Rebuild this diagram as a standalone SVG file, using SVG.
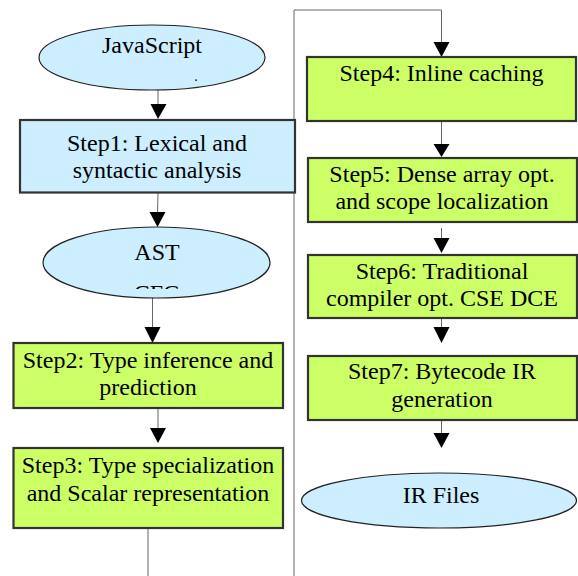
<svg xmlns="http://www.w3.org/2000/svg" width="578" height="576" viewBox="0 0 578 576">
  <style>
    .term { fill: #cceeff; stroke: #222; stroke-width: 1.2; }
    .blue { fill: #cceeff; stroke: #333; stroke-width: 2.2; }
    .green { fill: #ccff66; stroke: #333; stroke-width: 2.2; }
    .lbl { font-family: 'Liberation Serif', 'Times New Roman', serif; font-size: 24px; fill: #000; text-anchor: middle; }
    .wire { fill: none; stroke: #666; stroke-width: 1; }
    .head { fill: #000; stroke: none; }
  </style>
  <defs>
    <clipPath id="astClip">
      <rect x="40" y="220" width="240" height="69"/>
    </clipPath>
  </defs>
  <rect width="578" height="576" fill="#fff"/>

  <!-- connectors -->
  <g id="connectors">
    <line class="wire" x1="158" y1="90" x2="158" y2="106"/>
    <polygon class="head" points="150.5,104 166.5,104 158,119"/>
    <line class="wire" x1="158" y1="193" x2="157.5" y2="214"/>
    <polygon class="head" points="149.5,212 165.5,212 157.5,227"/>
    <line class="wire" x1="152.5" y1="287" x2="152.5" y2="329"/>
    <polygon class="head" points="144.5,327 160.5,327 152.5,343"/>
    <line class="wire" x1="158" y1="408" x2="158" y2="430"/>
    <polygon class="head" points="150,428 166,428 158,443"/>
    <line class="wire" x1="148" y1="528" x2="148" y2="576"/>
    <polyline class="wire" points="294,576 294,10 441.5,10 441.5,44"/>
    <polygon class="head" points="433.5,42 449.5,42 441.5,57"/>
    <line class="wire" x1="441.5" y1="121" x2="441.5" y2="146"/>
    <polygon class="head" points="433.5,144 449.5,144 441.5,157"/>
    <line class="wire" x1="441.5" y1="228" x2="441.5" y2="240"/>
    <polygon class="head" points="433.5,238 449.5,238 441.5,253"/>
    <line class="wire" x1="441.5" y1="318" x2="441.5" y2="329"/>
    <polygon class="head" points="433.5,327 449.5,327 441.5,343"/>
    <line class="wire" x1="441.5" y1="420" x2="441.5" y2="435"/>
    <polygon class="head" points="433.5,433 449.5,433 441.5,448"/>
  </g>

  <g id="javascript">
    <ellipse class="term" cx="152" cy="57.5" rx="113" ry="32.5"/>
    <text class="lbl" x="152" y="53">JavaScript</text>
    <text class="lbl" x="196" y="81" style="font-size:14px">.</text>
  </g>

  <g id="step1">
    <rect class="blue" x="20" y="120" width="275" height="72.5"/>
    <text class="lbl" x="157" y="151">Step1: Lexical and</text>
    <text class="lbl" x="157" y="178">syntactic analysis</text>
  </g>

  <g id="ast">
    <ellipse class="term" cx="156.5" cy="262.5" rx="113.5" ry="35.5"/>
    <text class="lbl" x="157" y="260">AST</text>
    <text class="lbl" x="157" y="301" clip-path="url(#astClip)">CFG</text>
  </g>

  <g id="step2">
    <rect class="green" x="13.5" y="343" width="269.5" height="65"/>
    <text class="lbl" x="148" y="368">Step2: Type inference and</text>
    <text class="lbl" x="148" y="395">prediction</text>
  </g>

  <g id="step3">
    <rect class="green" x="13.5" y="448" width="269.5" height="80"/>
    <text class="lbl" x="148" y="473">Step3: Type specialization</text>
    <text class="lbl" x="148" y="501">and Scalar representation</text>
  </g>

  <g id="step4">
    <rect class="green" x="307" y="57" width="269" height="64"/>
    <text class="lbl" x="441.5" y="81">Step4: Inline caching</text>
  </g>

  <g id="step5">
    <rect class="green" x="308" y="158" width="269" height="64"/>
    <text class="lbl" x="442" y="182">Step5: Dense array opt.</text>
    <text class="lbl" x="442" y="209">and scope localization</text>
  </g>

  <g id="step6">
    <rect class="green" x="308" y="255" width="269" height="63"/>
    <text class="lbl" x="442" y="279">Step6: Traditional</text>
    <text class="lbl" x="442" y="306">compiler opt. CSE DCE</text>
  </g>

  <g id="step7">
    <rect class="green" x="308" y="356" width="269" height="64"/>
    <text class="lbl" x="442" y="379">Step7: Bytecode IR</text>
    <text class="lbl" x="442" y="407">generation</text>
  </g>

  <g id="ir-files">
    <ellipse class="term" cx="439" cy="500.5" rx="137.5" ry="27.5"/>
    <text class="lbl" x="441" y="503">IR Files</text>
  </g>
</svg>
